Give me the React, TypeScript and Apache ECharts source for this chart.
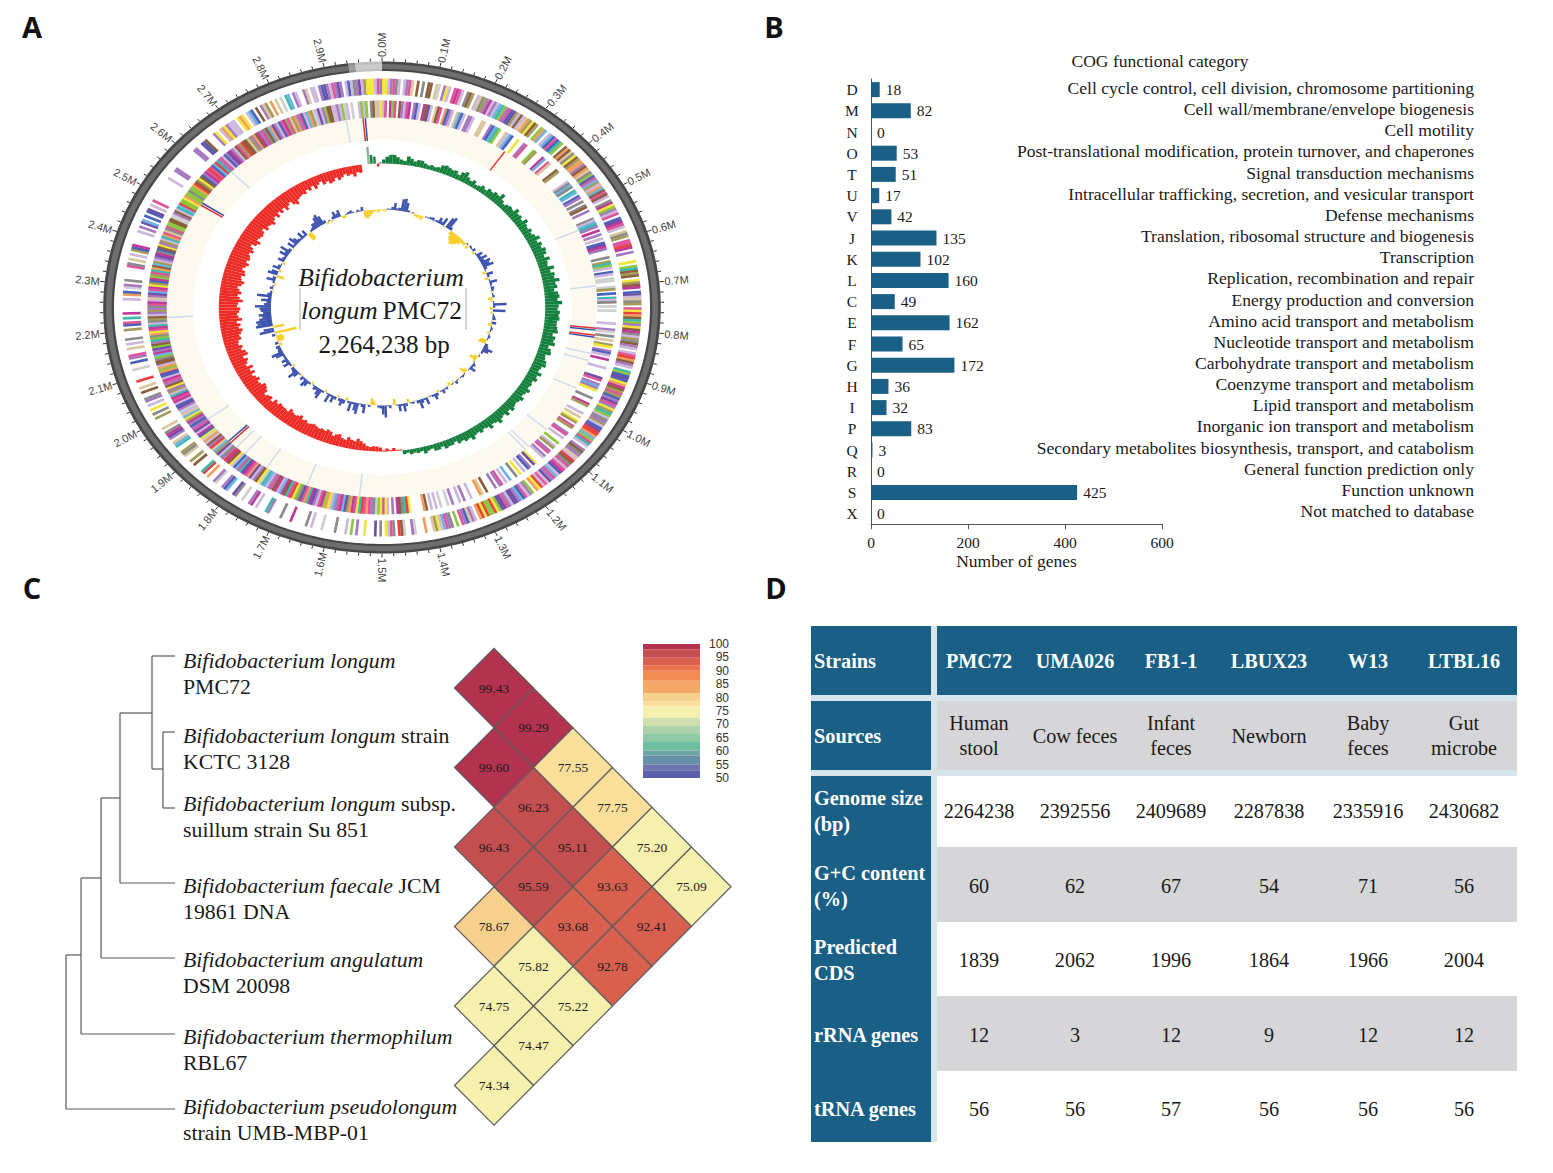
import React, { useEffect, useRef } from "react";
import * as echarts from "echarts";

const SERIF = "Liberation Serif";
const SANS = "Liberation Sans";

// ---------- Panel A data (positions in Mb, clockwise from the top; 3.0 Mb = full circle) ----------
const scaleLabels = ["0.0M","0.1M","0.2M","0.3M","0.4M","0.5M","0.6M","0.7M","0.8M","0.9M","1.0M","1.1M","1.2M","1.3M","1.4M","1.5M","1.6M","1.7M","1.8M","1.9M","2.0M","2.1M","2.2M","2.3M","2.4M","2.5M","2.6M","2.7M","2.8M","2.9M"];
const ringSections = [[0, 2.942, 0], [2.942, 2.954, 1], [2.954, 3.0, 2]];
const geneColors: Record<string, string> = {
  p: "#a678c0", l: "#cdb8dc", k: "#e0559a", y: "#f2e63a", g: "#8a8a8a", o: "#a39a5c",
  b: "#4a62b8", s: "#6db3e2", t: "#3fb8ad", n: "#8dc63f", r: "#e8403c", a: "#ef9e5e",
  w: "#8b5e3c", c: "#dcc69e", e: "#cfcfcf", m: "#c0399a", v: "#6f4ea8",
};
const outerGenes = [
  "yylpkgl.lpkc.w.g.ww.","ce.pyl.kmkl.gwo.lcgo","pmlplstnpkbvolwlcaoy","wo.nas.lsbkbtn.wawcg",
  "ywoaapwacgnbksolaswk","wl.gmynplk.bvmkl.cgo",".kkrm.p...y.ntwow.yo","wm.bvlcgo.kyrawtnpyw",
  "mglogwpl.lkrawpl.tnb","vbyamwokobpvkpyotnlg","polbvrrasnktl.pwgpcl","rwgklkmblskpvlklrya.",
  "nplkbspvvlpkvvnyrnnr","yra.lpcbpk.n.gpkslyo","c..a...ep..ewr.gkly.","g.v...y..p.n.l...g..",
  "..e...l.g.....m...g.","...pt...l.mp..e..gv.",".sbp..ep..a.rt...w.o","..cgo..tsc.pvmg.c...",
  ".o.g.y.l.pg..w.c..r.","...e..b.pk..c.l.g...","o.bk.t.m.....l.ab.ep",".g.....kg.c.l.obm...",
  "..l.p.vs.b.bv.l.k...",".......l...pp.......","..pp..vbw...py.laypl","ll.yay.lsb.w.pco.a.c",
  ".e.ts.pl..pc.ll.pbvp","lkpvp.lblgpvloyyylkp",
];
const innerGenes = [
  "lk.mnk.wplkm.pbl.mwv","l.cwk.abpl.csbl.ppl.","..cc..pbstn..clsb..y","..pk...no...ms.kc...",
  "wo.....lgsg.ts.bp.g.","gw.p...glstp.m.p.l.b","vmp...g.otnl.bl.ee..","eo.b.tlg.e.e.....l..",
  "pe.g.c.oy.pbl.m...l.","...vk.pspy...g..mo..",".l.c.yo.ko..pk.l..n.","lo.pk.pl...yv.pb.l.y",
  ".g..s.l.kp.p...w.ca.","..l..p.l..p.e..e.l.l",".wa.....yrtgwm.p.lyk","ynegpkakrtykmaovsmkp",
  "slyanmklpvmtakvgnyrk","twmslmwkplsteywplvak","mvtksblywmrpglvoscrp","wlaeybmlvkpbpmoyscle",
  "pvblmkmtlopywpkmlbva","nalwwgnsmpvnwptngayk","mtlgowlpopgkmlcpvskm","yobmnoktawsolpvmgbwy",
  "poltakcgknnwweepwlts","rnnyanngnnarwoywbpmk","rkbsrtpklbpvmplwkorw","wcopawmpkgwsavplbkmo",
  "kcoapkblsaoelvlpnwwl","lplnel.e..lnln.gwcly",
];
// [position, stripe colour]: tRNA pale blue, rRNA red / blue, in the cream band
const creamMarks: [number, string][] = [
  [2.958,"#d8333a"],[2.963,"#3a4fa0"],[2.92,"#cfdcec"],[2.63,"#cfdcec"],[2.522,"#d8333a"],[2.528,"#3a4fa0"],
  [0.29,"#ee3b30"],[0.55,"#cfdcec"],[0.696,"#cfdcec"],[0.802,"#d8333a"],[0.807,"#3a4fa0"],[0.82,"#d8333a"],[0.825,"#3a4fa0"],
  [0.867,"#cfdcec"],[0.885,"#cfdcec"],[0.96,"#cfdcec"],[1.083,"#cfdcec"],[1.142,"#cfdcec"],[1.152,"#cfdcec"],
  [2.225,"#cfdcec"],[1.95,"#cfdcec"],[1.872,"#d8333a"],[1.878,"#3a4fa0"],[1.855,"#cfdcec"],[1.83,"#cfdcec"],
  [1.77,"#cfdcec"],[1.67,"#cfdcec"],[1.55,"#cfdcec"],
];
const greenHist = [
  4,7,9,9,7,5,4,9,7,5, 7,7,5,4,5,4,5,8,9,8, 7,8,5,9,11,7,5,7,4,5, 7,5,8,7,9,8,12,7,5,7,
  8,7,11,8,9,7,11,8,7,9, 7,9,12,8,11,9,12,11,8,12, 9,8,13,9,12,11,15,11,12,9, 12,13,11,15,12,11,13,12,13,11,
  11,12,13,9,12,11,13,8,11,12, 8,9,11,12,9,8,12,9,11,8, 9,8,11,9,8,11,9,8,9,11, 8,11,8,9,12,9,8,11,8,7,
  9,7,8,11,8,9,7,8,5,7, 7,8,5,7,7,4,5,7,4,5, 4,5,3,4,
];
const redHist = [
  1,1,3,1,3,1,4,5,5,4, 5,7,9,11,8,9,11,8,9,12, 11,9,12,13,11,12,11,12,13,12, 11,13,12,15,13,12,13,15,11,12,
  12,13,11,13,9,12,11,9,13,15, 16,13,12,15,13,11,15,12,16,11, 13,15,12,17,16,13,15,12,13,16,
  15,17,19,16,18,15,20,17,16,18, 19,16,17,21,18,16,19,17,15,18, 20,17,16,19,18,15,17,19,16,18,
  17,15,18,16,13,17,19,15,16,17, 16,13,17,15,16,18,15,13,16,12, 15,12,16,13,11,15,17,13,12,11,
  12,9,11,8,12,9,7,11,9,12, 11,8,11,9,7,9,8,11,7,8,
];
const gcSkew = [
  -1,-2,1,1,3,7,2,3,12,13, 9,2,-1,1,-2,-3,-2,-4,-1,1, 1,2,3,1,2,6,3,8,-1,11, 13,3,-4,-7,-9,-11,-10,-8,-6,-3,
  -3,1,-4,2,1,3,-2,1,6,3, 8,4,9,7,10,3,1,-3,6,2, -3,1,7,2,1,3,2,-1,1,2, -4,-2,1,12,2,-3,11,-2,1,2,
  3,-1,4,-3,1,2,1,-2,1,2, 1,-6,-7,3,4,9,6,2,-1,1, -4,-7,-2,1,3,2,6,1,-3,-6, 1,2,1,-1,1,3,-2,1,-3,-1,
  2,1,4,1,-2,3,6,2,1,-1, 7,2,4,9,3,-1,2,1,-4,3, 8,2,7,1,-6,-1,3,1,12,9, 3,2,-1,-4,-7,2,-1,9,3,1,
  11,8,2,10,2,-3,4,7,3,-2, 3,7,2,9,1,-2,2,10,7,3, 4,1,-2,2,6,8,2,4,-1,1, 6,10,4,3,-2,2,7,3,6,2,
  2,8,11,4,3,4,-3,3,-6,-7, -6,3,-20,13,9,-10,15,13,14,11, 8,11,7,9,10,14,6,4,9,3, 13,4,2,-1,3,1,-2,2,8,3,
  -7,9,6,-2,7,3,1,-2,6,3, 2,8,4,10,3,-1,7,2,9,6, 3,2,7,2,6,-8,-7,2,3,6, 6,10,12,9,3,-2,1,-2,3,7,
  4,7,-2,-3,1,2,3,1,-1,2, 1,4,-7,-8,-6,-4,-2,-1,-3,-1,
];
const capBins: [number, number, string][] = [
  [2.958,17,"#8fb59a"],[2.966,9,"#15803d"],[2.975,7,"#15803d"],[2.985,-3,"#ee2a24"],[2.992,1,"#15803d"],
];

// ---------- Panel B data ----------
const cogLetters = ["D","M","N","O","T","U","V","J","K","L","C","E","F","G","H","I","P","Q","R","S","X"];
const cogCounts = [18,82,0,53,51,17,42,135,102,160,49,162,65,172,36,32,83,3,0,425,0];
const cogNames = [
  "Cell cycle control, cell division, chromosome partitioning","Cell wall/membrane/envelope biogenesis","Cell motility",
  "Post-translational modification, protein turnover, and chaperones","Signal transduction mechanisms",
  "Intracellular trafficking, secretion, and vesicular transport","Defense mechanisms","Translation, ribosomal structure and biogenesis",
  "Transcription","Replication, recombination and repair","Energy production and conversion","Amino acid transport and metabolism",
  "Nucleotide transport and metabolism","Carbohydrate transport and metabolism","Coenzyme transport and metabolism","Lipid transport and metabolism",
  "Inorganic ion transport and metabolism","Secondary metabolites biosynthesis, transport, and catabolism","General function prediction only","Function unknown","Not matched to database",
];

// ---------- Panel C data ----------
const treeSegments = [
  [66,955,66,1109],[66,1109,175,1109],[66,955,81,955],[81,878,81,1034],[81,1034,175,1034],[81,878,101,878],
  [101,798,101,958],[101,958,175,958],[101,798,120,798],[120,713,120,883],[120,883,175,883],[120,713,152,713],
  [152,656,152,769],[152,656,175,656],[152,769,163,769],[163,732,163,808],[163,732,175,732],[163,808,175,808],
];
const species = [
  { y: 661, i: "Bifidobacterium longum", n: "", l2: "PMC72" },
  { y: 736, i: "Bifidobacterium longum", n: " strain", l2: "KCTC 3128" },
  { y: 804, i: "Bifidobacterium longum", n: " subsp.", l2: "suillum strain Su 851" },
  { y: 886, i: "Bifidobacterium faecale", n: " JCM", l2: "19861 DNA" },
  { y: 960, i: "Bifidobacterium angulatum", n: "", l2: "DSM 20098" },
  { y: 1037, i: "Bifidobacterium thermophilum", n: "", l2: "RBL67" },
  { y: 1107, i: "Bifidobacterium pseudolongum", n: "", l2: "strain UMB-MBP-01" },
];
const identityCells = [
  [0,0,99.43],[1,1,99.29],[0,2,99.60],[2,2,77.55],[1,3,96.23],[3,3,77.75],[0,4,96.43],[2,4,95.11],[4,4,75.20],
  [1,5,95.59],[3,5,93.63],[5,5,75.09],[0,6,78.67],[2,6,93.68],[4,6,92.41],[1,7,75.82],[3,7,92.78],
  [0,8,74.75],[2,8,75.22],[1,9,74.47],[0,10,74.34],
];
const legendBands: [number, number, string][] = [
  [98,100,"#b2324f"],[94.9,98,"#c44f50"],[92.1,94.9,"#d8604f"],[90,92.1,"#ee6f4c"],[86.25,90,"#f48c55"],
  [81.75,86.25,"#f6a868"],[78.5,81.75,"#f7d08e"],[76.75,78.5,"#f9df9a"],[72.5,76.75,"#f5f0ae"],[69.4,72.5,"#cfe0ae"],
  [66.4,69.4,"#aed1ab"],[63.4,66.4,"#8ccba5"],[60.25,63.4,"#6fc0a2"],[58.4,60.25,"#6ea6a4"],[54.9,58.4,"#6491a9"],
  [52.9,54.9,"#6f74ad"],[50,52.9,"#5a5fa8"],
];
const bandColor = (v: number) => (legendBands.find((b) => v >= b[0] && v <= b[1]) || legendBands[0])[2];

// ---------- Panel D data ----------
const tableRowHeads = ["Strains","Sources","Genome size\n(bp)","G+C content\n(%)","Predicted\nCDS","rRNA genes","tRNA genes"];
const tableRows = [
  ["PMC72","UMA026","FB1-1","LBUX23","W13","LTBL16"],
  ["Human\nstool","Cow feces","Infant\nfeces","Newborn","Baby\nfeces","Gut\nmicrobe"],
  ["2264238","2392556","2409689","2287838","2335916","2430682"],
  ["60","62","67","54","71","56"],
  ["1839","2062","1996","1864","1966","2004"],
  ["12","3","12","9","12","12"],
  ["56","56","57","56","56","56"],
];
const tableColX = [979, 1075, 1171, 1269, 1368, 1464];
const tableRowY = [626, 701, 776, 847, 922, 996, 1071];
const tableRowEnd = [695, 770, 847, 922, 996, 1071, 1142];
const tableTextY = [661, 735.5, 811, 885.5, 960, 1034.5, 1108.5];

// ---------- helpers ----------
const pt = (api: any, pos: number, r: number) => {
  const a = (pos / 3) * Math.PI * 2;
  return api.coord([r * Math.sin(a), r * Math.cos(a)]);
};
const bandPoints = (api: any, a: number, b: number, r0: number, r1: number) => {
  const n = Math.max(1, Math.ceil((b - a) / 0.01));
  const out: number[][] = [];
  for (let i = 0; i <= n; i++) out.push(pt(api, a + ((b - a) * i) / n, r1));
  for (let i = n; i >= 0; i--) out.push(pt(api, a + ((b - a) * i) / n, r0));
  return out;
};
const hiddenAxis = (gridIndex: number, min: number, max: number, extra: any = {}) => ({
  type: "value", gridIndex, min, max, show: false, ...extra,
});

const buildOption = () => {
  const ringData = ringSections.map((s) => [...s]);
  const ringFill = [["#474747", "#6e6e6e"], ["#8d8d8d", "#a0a0a0"], ["#bdbdbd", "#cbcbcb"]];
  const geneData: number[][] = [];
  const colorKeys = Object.keys(geneColors);
  [outerGenes, innerGenes].forEach((track, t) =>
    track.forEach((seg, s) =>
      seg.split("").forEach((ch, i) => {
        if (ch !== ".") geneData.push([s * 0.1 + (i * 0.1) / seg.length, t, colorKeys.indexOf(ch)]);
      })
    )
  );
  const tickPos: number[] = [];
  for (let i = 0; i < 150; i++) tickPos.push(i * 0.02);

  const genomeSeries = (name: string, data: any[], renderItem: any) => ({
    type: "custom", name, xAxisIndex: 0, yAxisIndex: 0, data, renderItem, silent: true, coordinateSystem: "cartesian2d",
    encode: { x: 0, y: 1 },
  });

  const graphics: any[] = [];
  const text = (x: number, y: number, t: string, opts: any = {}) =>
    graphics.push({
      type: "text", x, y, silent: true,
      style: { text: t, fontFamily: SERIF, fontSize: 20, fill: "#1a1a1a", align: "left", verticalAlign: "middle", ...opts },
    });

  // panel letters
  [["A", 32, 26], ["B", 774, 26], ["C", 32, 587], ["D", 776, 587]].forEach(([t, x, y]: any) =>
    text(x, y, t, { fontFamily: "Open Sans", fontWeight: "bold", fontSize: 29, align: "center", fill: "#111" })
  );

  // genome title
  text(381, 277, "Bifidobacterium", { fontStyle: "italic", fontSize: 25.5, align: "center" });
  text(381.5, 310, "{i|longum} {n|PMC72}", {
    align: "center",
    rich: {
      i: { fontFamily: SERIF, fontStyle: "italic", fontSize: 25.5, fill: "#1a1a1a" },
      n: { fontFamily: SERIF, fontSize: 25.5, fill: "#1a1a1a" },
    },
  });
  text(384, 344, "2,264,238 bp", { fontSize: 25, align: "center" });
  [300, 466].forEach((x) =>
    graphics.push({ type: "line", silent: true, shape: { x1: x, y1: 288, x2: x, y2: 330 }, style: { stroke: "#aaa", lineWidth: 1 } })
  );

  text(1160, 61, "COG functional category", { fontSize: 17.5, align: "center" });

  // species labels
  species.forEach((s) => {
    const rich = {
      i: { fontFamily: SERIF, fontStyle: "italic", fontSize: 21.8, fill: "#1a1a1a" },
      n: { fontFamily: SERIF, fontSize: 21.8, fill: "#1a1a1a" },
    };
    text(183, s.y, s.n ? `{i|${s.i}}{n|${s.n}}` : `{i|${s.i}}`, { rich });
    text(183, s.y + 26, s.l2, { fontSize: 21.8 });
  });

  // table
  graphics.push({ type: "rect", silent: true, shape: { x: 811, y: 626, width: 706, height: 150 }, style: { fill: "#d6e4ec" } });
  graphics.push({ type: "rect", silent: true, shape: { x: 931, y: 776, width: 6, height: 366 }, style: { fill: "#d6e4ec" } });
  tableRowHeads.forEach((h, r) => {
    const y0 = tableRowY[r];
    const y1 = tableRowEnd[r];
    graphics.push({ type: "rect", silent: true, shape: { x: 811, y: y0, width: 120, height: y1 - y0 }, style: { fill: "#1a5f85" } });
    const fill = r === 0 ? "#1a5f85" : r % 2 === 1 ? "#d6d6d8" : "#ffffff";
    graphics.push({ type: "rect", silent: true, shape: { x: 937, y: y0, width: 580, height: y1 - y0 }, style: { fill } });
    const my = tableTextY[r];
    text(814, my, h, { fill: "#ffffff", fontWeight: "bold", fontSize: 20.3, lineHeight: 26 });
    tableRows[r].forEach((v, c) =>
      text(tableColX[c], my, v, {
        align: "center", lineHeight: 25, fontSize: 20.2,
        fill: r === 0 ? "#ffffff" : "#1a1a1a", fontWeight: r === 0 ? "bold" : "normal",
      })
    );
  });

  const tinyLabelFont = { fontFamily: SERIF, fontSize: 15.5, color: "#1a1a1a" };

  return {
    animation: false,
    backgroundColor: "#ffffff",
    graphic: { elements: graphics },
    grid: [
      { left: 42, top: 7.5, width: 680, height: 600 }, // genome map
      { left: 871, top: 79, width: 291, height: 445.2 }, // COG bars
      { left: 1473, top: 77.4, width: 1, height: 444.2 }, // COG names
      { left: 0, top: 0, width: 1553, height: 1173 }, // tree
      { left: 454.5, top: 648.25, width: 276.5, height: 477 }, // identity matrix
      { left: 643, top: 644, width: 57, height: 134 }, // identity legend
    ],
    xAxis: [
      hiddenAxis(0, -300, 300),
      {
        type: "value", gridIndex: 1, min: 0, max: 600, interval: 200,
        axisLine: { show: true, lineStyle: { color: "#555" } },
        axisTick: { show: true, length: 5, lineStyle: { color: "#555" } },
        splitLine: { show: false },
        axisLabel: { ...tinyLabelFont, margin: 10 },
        name: "Number of genes", nameLocation: "middle", nameGap: 27.5,
        nameTextStyle: { fontFamily: SERIF, fontSize: 17.5, color: "#1a1a1a" },
      },
      hiddenAxis(2, 0, 1),
      hiddenAxis(3, 0, 1553),
      hiddenAxis(4, -1, 6),
      hiddenAxis(5, 0, 1),
    ],
    yAxis: [
      hiddenAxis(0, -300, 300),
      {
        type: "category", gridIndex: 1, data: cogLetters, inverse: true,
        axisLine: { show: true, lineStyle: { color: "#555" } },
        axisTick: { show: false },
        axisLabel: { ...tinyLabelFont, interval: 0, align: "center", margin: 19 },
      },
      {
        type: "category", gridIndex: 2, data: cogNames, inverse: true, position: "right",
        axisLine: { show: false }, axisTick: { show: false },
        axisLabel: { fontFamily: SERIF, fontSize: 17.6, color: "#1a1a1a", interval: 0, align: "right", margin: 0 },
      },
      hiddenAxis(3, 0, 1173, { inverse: true }),
      hiddenAxis(4, -1, 11, { inverse: true }),
      {
        type: "value", gridIndex: 5, min: 50, max: 100, interval: 5, position: "right",
        axisLine: { show: false }, axisTick: { show: false }, splitLine: { show: false },
        axisLabel: { fontFamily: SANS, fontSize: 12, color: "#333", align: "right", margin: 29 },
      },
    ],
    series: [
      // ---- panel A ----
      genomeSeries("cream", [[0, 3]], (_p: any, api: any) => ({
        type: "polygon", silent: true,
        shape: { points: bandPoints(api, 0, 3, 167, 190) },
        style: { fill: "#fdf9ee" },
      })),
      genomeSeries("scale ring", ringData, (_p: any, api: any) => {
        const a = api.value(0), b = api.value(1), f = ringFill[api.value(2)];
        return {
          type: "group",
          children: [
            { type: "polygon", shape: { points: bandPoints(api, a, b, 236.5, 246) }, style: { fill: f[0] } },
            { type: "polygon", shape: { points: bandPoints(api, a, b, 238.5, 243.5) }, style: { fill: f[1] } },
          ],
        };
      }),
      genomeSeries("ticks", tickPos.map((p) => [p]), (p: any, api: any) => {
        const pos = api.value(0);
        const major = p.dataIndex % 5 === 0;
        const A = pt(api, pos, 246), B = pt(api, pos, major ? 250 : 249);
        return { type: "line", shape: { x1: A[0], y1: A[1], x2: B[0], y2: B[1] }, style: { stroke: "#333", lineWidth: 1 } };
      }),
      genomeSeries("labels", scaleLabels.map((_l, i) => [i * 0.1]), (p: any, api: any) => {
        const pos = api.value(0);
        const P = pt(api, pos, 250.5), O = api.coord([0, 0]);
        const dx = P[0] - O[0], dy = P[1] - O[1];
        const right = pos <= 1.5;
        const rotation = right ? Math.atan2(-dy, dx) : Math.atan2(dy, -dx);
        return {
          type: "text", x: P[0], y: P[1], rotation,
          style: {
            text: scaleLabels[p.dataIndex], fontFamily: SANS, fontSize: 11, fill: "#444",
            align: right ? "left" : "right", verticalAlign: "middle",
          },
        };
      }),
      genomeSeries("genes", geneData, (_p: any, api: any) => {
        const pos = api.value(0), t = api.value(1);
        const A = pt(api, pos + 0.0025, t === 0 ? 213 : 190), B = pt(api, pos + 0.0025, t === 0 ? 229 : 207);
        return {
          type: "line", shape: { x1: A[0], y1: A[1], x2: B[0], y2: B[1] },
          style: { stroke: geneColors[colorKeys[api.value(2)]], lineWidth: 2.7 },
        };
      }),
      genomeSeries("rna marks", creamMarks.map((m) => [m[0]]), (p: any, api: any) => {
        const A = pt(api, api.value(0), 167), B = pt(api, api.value(0), 190);
        return { type: "line", shape: { x1: A[0], y1: A[1], x2: B[0], y2: B[1] }, style: { stroke: creamMarks[p.dataIndex][1], lineWidth: 1.5 } };
      }),
      genomeSeries("gc skew plus", greenHist.map((v, i) => [i * 0.01, v]), (_p: any, api: any) => ({
        type: "polygon",
        shape: { points: bandPoints(api, api.value(0), api.value(0) + 0.01, 144, 144 + api.value(1)) },
        style: { fill: "#15803d" },
      })),
      genomeSeries("gc skew minus", redHist.map((v, i) => [1.44 + i * 0.01, v]), (_p: any, api: any) => ({
        type: "polygon",
        shape: { points: bandPoints(api, api.value(0), api.value(0) + 0.01, 144 - api.value(1), 144) },
        style: { fill: "#ee2a24" },
      })),
      genomeSeries("caps", capBins.map((c) => [c[0], c[1]]), (p: any, api: any) => {
        const v = api.value(1);
        return {
          type: "polygon",
          shape: { points: bandPoints(api, api.value(0), api.value(0) + 0.007, Math.min(144, 144 + v), Math.max(144, 144 + v)) },
          style: { fill: capBins[p.dataIndex][2] },
        };
      }),
      genomeSeries("gc content", gcSkew.map((v, i) => [i * 0.01, v]), (_p: any, api: any) => {
        const v = api.value(1), pos = api.value(0) + 0.005;
        const A = pt(api, pos, 98), B = pt(api, pos, 98 + v);
        return {
          type: "line", shape: { x1: A[0], y1: A[1], x2: B[0], y2: B[1] },
          style: { stroke: v >= 0 ? "#3f55ad" : "#f7d02d", lineWidth: 2.5 },
        };
      }),
      // ---- panel B ----
      {
        type: "bar", xAxisIndex: 1, yAxisIndex: 1, data: cogCounts, barWidth: 15, silent: true,
        itemStyle: { color: "#1a5f85" },
        label: { show: true, position: "right", distance: 6, ...tinyLabelFont },
      },
      // ---- panel C ----
      {
        type: "custom", xAxisIndex: 3, yAxisIndex: 3, data: treeSegments, silent: true,
        encode: { x: 0, y: 1 },
        renderItem: (_p: any, api: any) => {
          const A = api.coord([api.value(0), api.value(1)]), B = api.coord([api.value(2), api.value(3)]);
          return { type: "line", shape: { x1: A[0], y1: A[1], x2: B[0], y2: B[1] }, style: { stroke: "#5a5a5a", lineWidth: 1.2 } };
        },
      },
      {
        type: "custom", xAxisIndex: 4, yAxisIndex: 4, data: identityCells, silent: true,
        encode: { x: 0, y: 1 },
        renderItem: (_p: any, api: any) => {
          const c = api.value(0), r = api.value(1), v = api.value(2);
          const C = api.coord([c, r]);
          return {
            type: "group",
            children: [
              {
                type: "polygon",
                shape: { points: [api.coord([c - 1, r]), api.coord([c, r - 1]), api.coord([c + 1, r]), api.coord([c, r + 1])] },
                style: { fill: bandColor(v), stroke: "#5c5c5c", lineWidth: 1.2 },
              },
              {
                type: "text", x: C[0], y: C[1],
                style: { text: v.toFixed(2), fontFamily: SERIF, fontSize: 13.5, fill: "#1a1a1a", align: "center", verticalAlign: "middle" },
              },
            ],
          };
        },
      },
      {
        type: "custom", xAxisIndex: 5, yAxisIndex: 5, data: legendBands.map((b) => [b[0], b[1]]), silent: true,
        encode: { y: 1 },
        renderItem: (p: any, api: any) => {
          const A = api.coord([0, api.value(1)]), B = api.coord([1, api.value(0)]);
          return { type: "rect", shape: { x: A[0], y: A[1], width: B[0] - A[0], height: B[1] - A[1] }, style: { fill: legendBands[p.dataIndex][2] } };
        },
      },
    ],
  };
};

export default function App() {
  const ref = useRef<HTMLDivElement>(null);
  useEffect(() => {
    const chart = echarts.init(ref.current as HTMLDivElement, undefined, { renderer: "svg" });
    chart.setOption(buildOption() as any);
    return () => chart.dispose();
  }, []);
  return <div ref={ref} style={{ position: "absolute", left: 0, top: 0, width: 1553, height: 1173 }} />;
}
